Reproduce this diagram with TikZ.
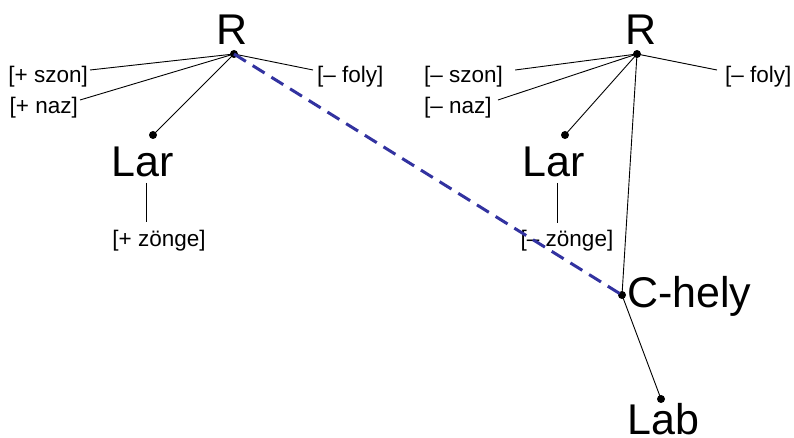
\documentclass[tikz,border=0pt]{standalone}
\usepackage{fontspec}
\setmainfont{Liberation Sans}
\usetikzlibrary{calc}
\definecolor{dashblue}{RGB}{50,50,160}
\begin{document}
\begin{tikzpicture}[x=1pt,y=-1pt,
  big/.style={inner sep=0pt,font=\fontsize{43}{45}\selectfont},
  small/.style={inner sep=0pt,font=\fontsize{22.5}{25}\selectfont},
  dotnode/.style={circle,fill=black,inner sep=0pt,minimum size=8pt},
  thin line/.style={draw=black,line width=0.9pt},
  assoc/.style={draw=dashblue,line width=3pt,dash pattern=on 14pt off 8pt}]
\useasboundingbox (0,0) rectangle (794,438);
% left tree
\node[big,anchor=base] (R1) at (232,45) {R};
\node[dotnode] (r1) at (234,54) {};
\node[small,anchor=east] (szon1) at (88,77) {[+ szon]};
\node[small,anchor=east] (naz1) at (78,108) {[+ naz]};
\node[small,anchor=west] (foly1) at (317,77) {[– foly]};
\node[big,anchor=base] (Lar1) at (143,177) {Lar};
\node[dotnode] (lar1) at (153,135) {};
\node[small] (zonge1) at (159,241) {[+ zönge]};
\draw[thin line] (r1.center) -- ($(szon1.east)+(2,-7)$);
\draw[thin line] (r1.center) -- ($(naz1.east)+(2,-8)$);
\draw[thin line] (r1.center) -- ($(foly1.west)+(-4,-7)$);
\draw[thin line] (r1.center) -- (lar1.center);
\draw[thin line] ($(Lar1.base)+(3,6)$) -- ($(zonge1.north)+(-13,-8)$);
% right tree
\node[big,anchor=base] (R2) at (641,45) {R};
\node[dotnode] (r2) at (637,54) {};
\node[small,anchor=west] (szon2) at (424,77) {[– szon]};
\node[small,anchor=west] (naz2) at (424,108) {[– naz]};
\node[small,anchor=west] (foly2) at (725,77) {[– foly]};
\node[big,anchor=base] (Lar2) at (554,177) {Lar};
\node[dotnode] (lar2) at (565,135) {};
\node[small] (zonge2) at (567,241) {[– zönge]};
\node[dotnode] (chely) at (622,295) {};
\node[big,anchor=base west] (Chely) at (627,307) {C-hely};
\node[dotnode] (lab) at (661,399) {};
\node[big,anchor=base west,text depth=0pt] (Lab) at (627,434) {Lab};
\draw[thin line] (r2.center) -- ($(szon2.east)+(12,-7)$);
\draw[thin line] (r2.center) -- ($(naz2.east)+(6,-8)$);
\draw[thin line] (r2.center) -- ($(foly2.west)+(-8,-7)$);
\draw[thin line] (r2.center) -- (lar2.center);
\draw[thin line] (r2.center) -- (chely.center);
\draw[thin line] (chely.center) -- (lab.center);
\draw[thin line] ($(Lar2.base)+(3,6)$) -- ($(zonge2.north)+(-10,-7)$);
% association line
\draw[assoc] (r1.center) -- (chely.center);
\end{tikzpicture}
\end{document}
